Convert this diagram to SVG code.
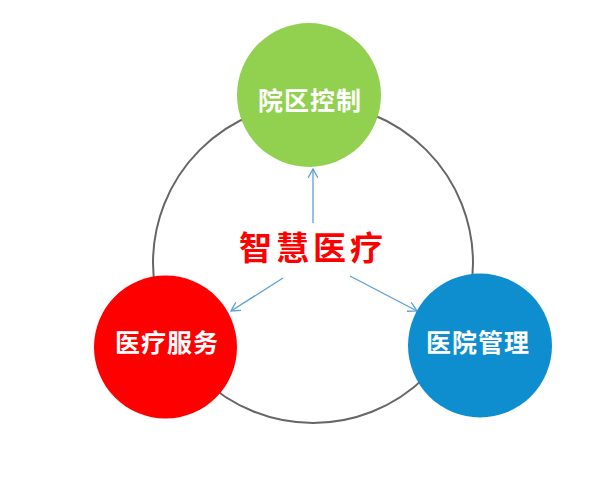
<svg xmlns="http://www.w3.org/2000/svg" width="602" height="499" viewBox="0 0 602 499">
<style>
.lbl{font-family:"Noto Sans CJK SC","Noto Sans",sans-serif;font-weight:bold;fill:#fff;font-size:25px;text-anchor:middle;letter-spacing:1px}
.title{font-family:"Noto Sans CJK SC","Noto Sans",sans-serif;font-weight:bold;fill:#f00;font-size:33px;text-anchor:middle;letter-spacing:4px}
.arr{stroke:#5aa0d6;stroke-width:1.3;fill:none;marker-end:url(#ah)}
</style>
<defs>
<marker id="ah" viewBox="0 0 10 10" refX="9" refY="5" markerWidth="10" markerHeight="10" markerUnits="userSpaceOnUse" orient="auto">
<path d="M0,0 L9,5 L0,10" fill="none" stroke="#5aa0d6" stroke-width="1.3"/>
</marker>
</defs>
<rect width="602" height="499" fill="#fff"/>
<g id="ring"><circle cx="313" cy="263" r="160" fill="none" stroke="#666" stroke-width="2"/></g>
<g id="connectors">
<line class="arr" x1="313" y1="223" x2="313" y2="169"/>
<line class="arr" x1="283" y1="278" x2="231" y2="311"/>
<line class="arr" x1="350" y1="276" x2="417" y2="311"/>
</g>
<g id="center"><text class="title" x="313" y="260">智慧医疗</text></g>
<g id="n-top"><circle cx="309" cy="95" r="72" fill="#92d050"/><text class="lbl" x="310" y="110">院区控制</text></g>
<g id="n-left"><circle cx="165.5" cy="347" r="71.5" fill="#ff0000"/><text class="lbl" x="167" y="352">医疗服务</text></g>
<g id="n-right"><circle cx="480" cy="345.5" r="72" fill="#0e8ecf"/><text class="lbl" x="478" y="352">医院管理</text></g>
</svg>
